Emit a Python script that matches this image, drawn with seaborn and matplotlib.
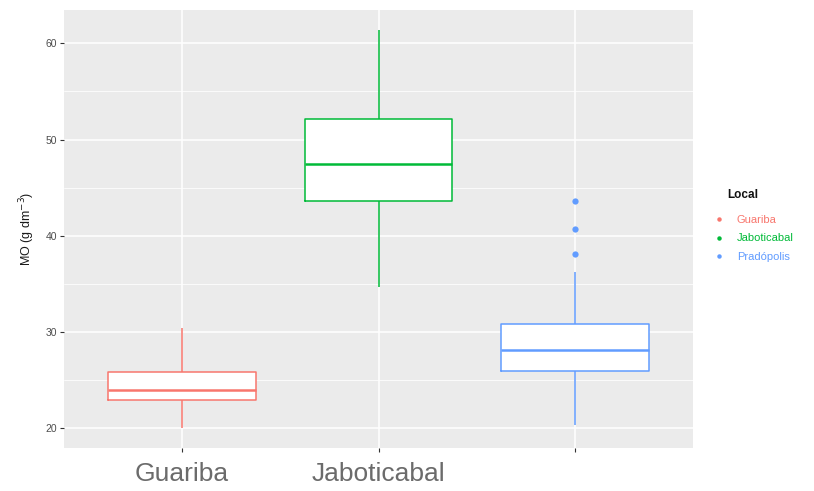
import matplotlib
matplotlib.use("Agg")
import matplotlib.pyplot as plt
import pandas as pd
import seaborn as sns
from matplotlib.lines import Line2D
from matplotlib.ticker import MultipleLocator

# values
locais = ["Guariba", "Jaboticabal", "Pradópolis"]
cores = ["#F8766D", "#00BA38", "#619CFF"]
# lower whisker, Q1, median, Q3, upper whisker
guariba = [20.0, 22.9, 24.0, 25.8, 30.4]
jaboticabal = [34.7, 43.6, 47.5, 52.1, 61.4]
pradopolis = [20.3, 25.9, 28.1, 30.8, 36.2]
outliers_pradopolis = [38.1, 40.7, 43.6]
x_labels = ["Guariba", "Jaboticabal", ""]

if __name__ == '__main__':
    df = pd.DataFrame({
        "Local": [locais[0]] * len(guariba) + [locais[1]] * len(jaboticabal) + [locais[2]] * len(pradopolis),
        "MO": guariba + jaboticabal + pradopolis,
    })
    out = pd.DataFrame({"Local": [locais[2]] * len(outliers_pradopolis), "MO": outliers_pradopolis})

    sns.set_theme(style="darkgrid", rc={
        "axes.facecolor": "#EBEBEB",
        "grid.color": "white",
        "axes.edgecolor": "none",
    })
    plt.rcParams['font.family'] = ['Liberation Sans', 'DejaVu Sans']

    fig = plt.figure(figsize=(8.14, 4.91), dpi=100)
    ax = fig.add_axes([64 / 814, 43 / 491, 629 / 814, 438 / 491])

    # white fill first, coloured outlines on top
    sns.boxplot(data=df, x="Local", y="MO", order=locais, color="white", fill=True,
                whis=(0, 100), width=0.75, linewidth=0, showcaps=False, ax=ax)
    sns.boxplot(data=df, x="Local", y="MO", order=locais, hue="Local", palette=cores,
                fill=False, whis=(0, 100), width=0.75, linewidth=1.1, showcaps=False,
                medianprops={"linewidth": 1.8}, legend=False, ax=ax)
    sns.stripplot(data=out, x="Local", y="MO", order=locais, color=cores[2],
                  jitter=False, size=4.5, ax=ax)

    ax.set_xlim(-0.6, 2.6)
    ax.set_ylim(17.93, 63.47)
    ax.yaxis.set_major_locator(MultipleLocator(10))
    ax.yaxis.set_minor_locator(MultipleLocator(5))
    ax.grid(which="major", color="white", linewidth=1.1)
    ax.grid(which="minor", axis="y", color="white", linewidth=0.55)
    ax.set_axisbelow(True)

    ax.set_xticks(range(len(locais)))
    ax.set_xticklabels(x_labels, fontsize=19, color="#6b6b6b")
    ax.tick_params(axis="x", length=3, width=0.8, color="#333333", pad=7, bottom=True)
    ax.tick_params(axis="y", length=3, width=0.8, color="#333333", labelsize=7.5,
                   labelcolor="#4D4D4D", pad=2, left=True)
    ax.tick_params(which="minor", length=0)
    ax.set_xlabel("")
    ax.set_ylabel("MO (g dm$^{-3}$)", fontsize=9, color="#1a1a1a", labelpad=6)

    # legend: title placed on its own, keys are small dots, labels in the hue colours
    fig.text(727 / 814, 1 - 195 / 491, "Local", fontsize=8.5, fontweight="bold",
             color="#111111", va="center", ha="left")
    handles = [Line2D([], [], marker="o", linestyle="", color=c, markersize=2.2) for c in cores]
    leg = fig.legend(handles, locais, loc="upper left", bbox_to_anchor=(0.878, 0.562),
                     frameon=False, fontsize=8, borderpad=0, borderaxespad=0,
                     handlelength=0.8, handletextpad=1.2, labelspacing=0.75)
    for t, c in zip(leg.get_texts(), cores):
        t.set_color(c)

    plt.savefig("out.png", dpi=100)
